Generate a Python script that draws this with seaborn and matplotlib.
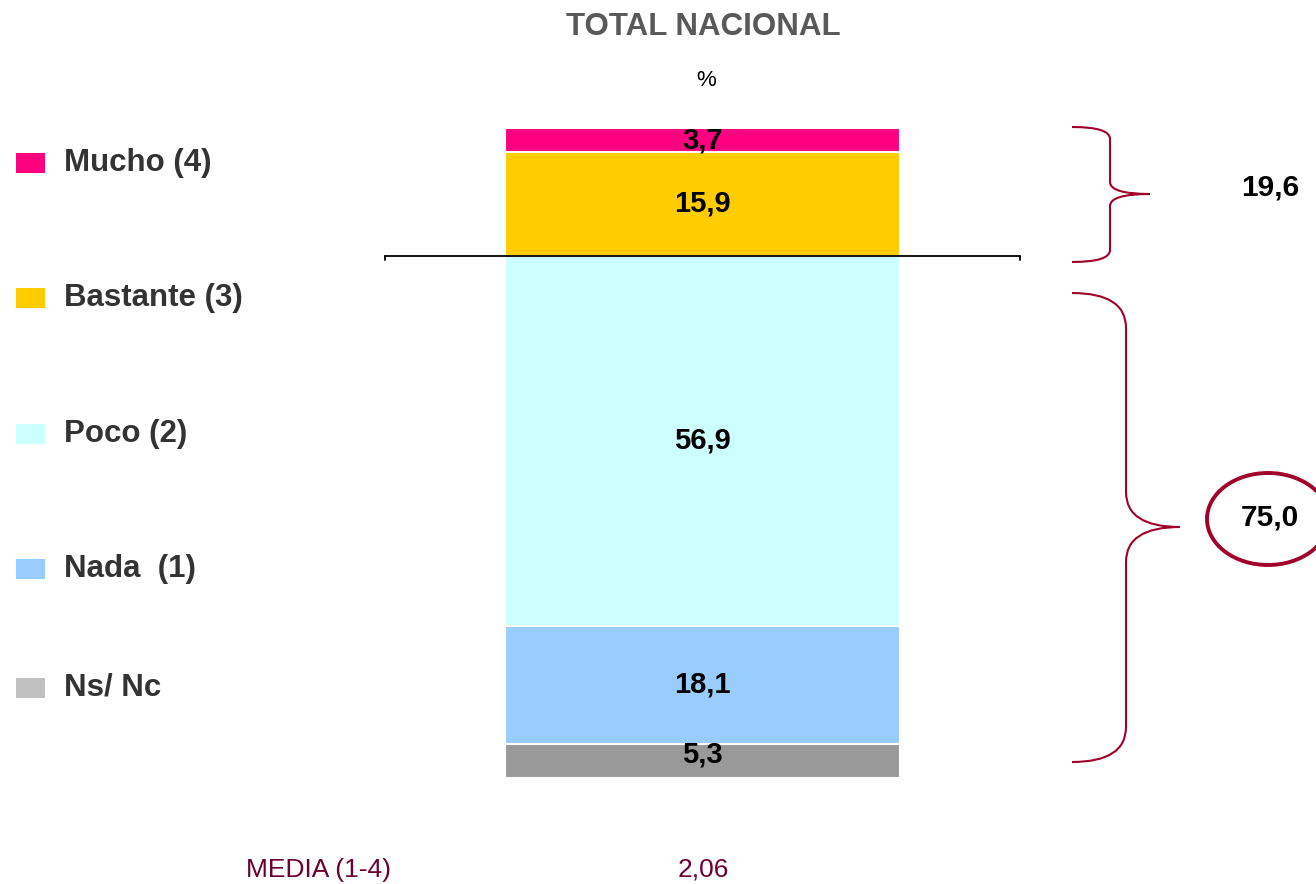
import matplotlib
matplotlib.use("Agg")
import matplotlib.pyplot as plt
from matplotlib.path import Path
from matplotlib.patches import PathPatch, Ellipse, Rectangle
import numpy as np
import pandas as pd
import seaborn as sns

# data (bottom to top)
categorias = ["Ns/ Nc", "Nada  (1)", "Poco (2)", "Bastante (3)", "Mucho (4)"]
valores = [5.3, 18.1, 56.9, 15.9, 3.7]
etiquetas = ["5,3", "18,1", "56,9", "15,9", "3,7"]
colores_barra = ["#999999", "#99CCFF", "#CCFFFF", "#FFCC00", "#FF0080"]
colores_leyenda = ["#C0C0C0", "#99CCFF", "#CCFFFF", "#FFCC00", "#FF0080"]
grupos = ["19,6", "75,0"]
media_txt = "MEDIA (1-4)"
media_val = "2,06"

W, H = 1316, 884
sns.set_theme(style="white")
plt.rcParams['font.family'] = ['Liberation Sans', 'DejaVu Sans']

fig = plt.figure(figsize=(W / 100, H / 100), dpi=100)
fig.patch.set_facecolor("white")

def px(x, y):
    return x / W, 1 - y / H

# axes: y = 0 at px 778, top of stack at px 128
total = sum(valores)
y0, y1 = 778, 128
ax = fig.add_axes([0, 1 - y0 / H, 1, (y0 - y1) / H])
scale = (900 - 505) / 0.8
xc = 702.5

# stacked bar drawn as overlapping cumulative bars
cum = np.cumsum(valores)
df = pd.DataFrame({"grupo": ["TOTAL"] * len(valores), "cum": cum, "cat": categorias})
for i in range(len(valores) - 1, -1, -1):
    sns.barplot(data=df.iloc[[i]], x="grupo", y="cum", color=colores_barra[i],
                saturation=1, width=0.8, edgecolor="white", linewidth=1.5, ax=ax)
ax.set_xlim(-xc / scale, (W - xc) / scale)
ax.set_ylim(0, total)
ax.axis("off")

# value labels
bottoms = cum - np.array(valores)
for i, (b, v, t) in enumerate(zip(bottoms, valores, etiquetas)):
    yy = b + v / 2 + (0.9 if i == 0 else 0)
    ax.text(0, yy, t, ha="center", va="center", fontsize=21, fontweight="bold",
            color="black")

# horizontal separator line with end ticks
ax.plot([(385 - xc) / scale, (1020 - xc) / scale], [cum[2], cum[2]], color="black", lw=1.3)
for xe in (385, 1020):
    ax.plot([(xe - xc) / scale] * 2, [cum[2], cum[2] - 0.7], color="black", lw=1.3)

# title
fig.text(*px(703, 27), "TOTAL NACIONAL", ha="center", va="center", fontsize=22.5,
         fontweight="bold", color="#595959")
fig.text(*px(706, 80), "%", ha="center", va="center", fontsize=16, color="black")

# legend
leg_y = [688, 569, 434, 298, 163]
for cat, col, ly in zip(categorias, colores_leyenda, leg_y):
    fx, fy = px(16, ly + 10)
    fig.patches.append(Rectangle((fx, fy), 29 / W, 20 / H, transform=fig.transFigure,
                                 facecolor=col, edgecolor="none"))
    fig.text(*px(64, ly), cat, ha="left", va="center", fontsize=22.5, fontweight="bold",
             color="#333333")

# braces
rojo = "#A0002A"

def brace(xl, xm, xt, ytop, ybot, ytip, r):
    pts = [px(xl, ytop), px(xm, ytop), px(xm, ytop + r), px(xm, ytip - r),
           px(xm, ytip), px(xt, ytip), px(xm, ytip), px(xm, ytip + r),
           px(xm, ybot - r), px(xm, ybot), px(xl, ybot)]
    codes = [Path.MOVETO, Path.CURVE3, Path.CURVE3, Path.LINETO,
             Path.CURVE3, Path.CURVE3, Path.CURVE3, Path.CURVE3,
             Path.LINETO, Path.CURVE3, Path.CURVE3]
    fig.patches.append(PathPatch(Path(pts, codes), transform=fig.transFigure,
                                 facecolor="none", edgecolor=rojo, lw=1.5))

brace(1072, 1110, 1150, 127, 262, 194, 12)
brace(1072, 1126, 1180, 293, 762, 527, 35)

fig.text(*px(1270, 188), grupos[0], ha="center", va="center", fontsize=21.5,
         fontweight="bold", color="black")
fig.text(*px(1270, 518), grupos[1], ha="center", va="center", fontsize=21.5,
         fontweight="bold", color="black")
fig.patches.append(Ellipse(px(1268, 519), 122 / W, 92 / H, transform=fig.transFigure,
                           facecolor="none", edgecolor=rojo, lw=2.8))

# media
fig.text(*px(318, 870), media_txt, ha="center", va="center", fontsize=19, color="#6B0032")
fig.text(*px(703, 870), media_val, ha="center", va="center", fontsize=19, color="#6B0032")

fig.savefig("out.png", dpi=100, facecolor="white")
